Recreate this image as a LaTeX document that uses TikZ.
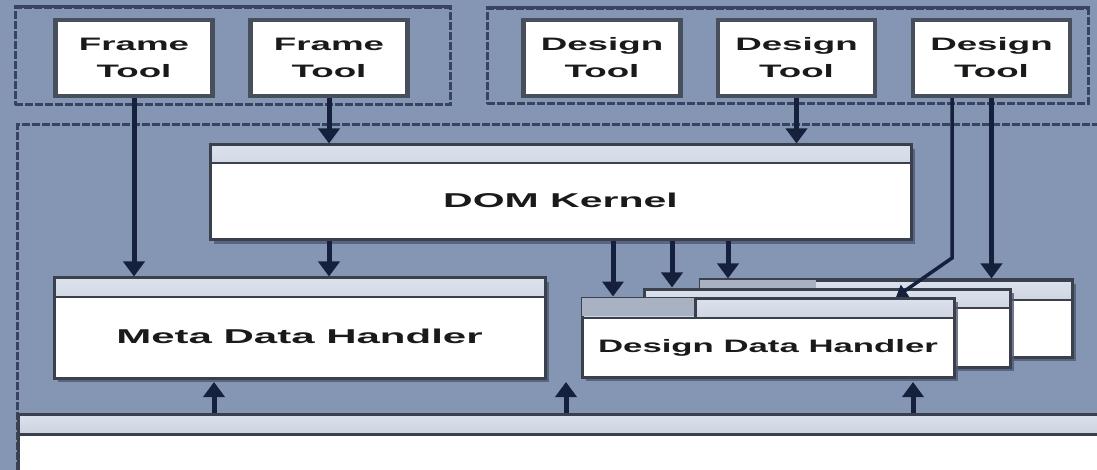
\documentclass[tikz,border=0pt]{standalone}
\usepackage{fontspec}
\setmainfont{Liberation Sans}
\usetikzlibrary{arrows.meta,shadows,calc}
\definecolor{bg}{HTML}{8595B4}
\definecolor{navy}{HTML}{15213C}
\definecolor{frm}{HTML}{384360}
\definecolor{bord}{HTML}{3A404C}
\definecolor{tbord}{HTML}{474E5C}
\definecolor{hdrtop}{HTML}{DCE2EC}
\definecolor{hdrbot}{HTML}{A6B2C7}
\definecolor{hdrdark}{HTML}{A9B2C2}
\definecolor{ink}{HTML}{1A1A1A}
\definecolor{shad}{HTML}{4E5972}
\begin{document}
\begin{tikzpicture}[x=1pt,y=-1pt,
  frame/.style={draw=frm, line width=3pt, dash pattern=on 8pt off 2pt},
  group/.style={frame, inner sep=0pt},
  toolbox/.style={draw=tbord, line width=4.5pt, fill=white, minimum width=157pt,
    minimum height=76pt, inner sep=0pt, align=center, text=ink,
    font=\fontsize{18}{27}\selectfont\bfseries},
  hbox/.style={draw=bord, line width=3pt, fill=white, inner sep=0pt, text=ink,
    path picture={
      \fill[top color=hdrtop, bottom color=hdrbot]
        (path picture bounding box.north west) rectangle
        ([yshift=-#1]path picture bounding box.north east);
      \draw[bord, line width=2.5pt]
        ([yshift=-#1]path picture bounding box.north west) --
        ([yshift=-#1]path picture bounding box.north east);}},
  shd/.style={drop shadow={shadow xshift=4pt, shadow yshift=-4pt, fill=shad, opacity=.8}},
  arr/.style={navy, line width=5pt, -{Triangle[width=21pt,length=15pt]}},
  thinarr/.style={navy, line width=3.5pt, -{Triangle[width=14pt,length=11pt]}}
]
\fill[bg] (0,0) rectangle (1097,470);
\useasboundingbox (0,0) rectangle (1097,470);

% group frames
\node[group, minimum width=435pt, minimum height=97pt] (lg) at (232.5,56.5) {};
\node[group, minimum width=601pt, minimum height=95pt] (rg) at (787.5,56.5) {};
\draw[frm, line width=3pt] (lg.north west) -- (lg.north east);
\draw[frm, line width=3pt] (rg.north west) -- (rg.north east);
% main frame
\draw[frame] (1100,125) -| (17,475);

% tool boxes
\node[toolbox] (ft1) at (134,58) {\scalebox{2.04}[1]{Frame}\\\scalebox{2.04}[1]{Tool}};
\node[toolbox] (ft2) at (329,58) {\scalebox{2.04}[1]{Frame}\\\scalebox{2.04}[1]{Tool}};
\node[toolbox] (dt1) at (602,58) {\scalebox{2.04}[1]{Design}\\\scalebox{2.04}[1]{Tool}};
\node[toolbox] (dt2) at (796.5,58) {\scalebox{2.04}[1]{Design}\\\scalebox{2.04}[1]{Tool}};
\node[toolbox] (dt3) at (991.5,58) {\scalebox{2.04}[1]{Design}\\\scalebox{2.04}[1]{Tool}};

% DOM kernel
\node[hbox=18pt, shd, minimum width=701pt, minimum height=95pt,
  font=\fontsize{20}{24}\selectfont\bfseries] (dom) at (560.5,192.5)
  {\raisebox{-15.5pt}[0pt][0pt]{\scalebox{2.05}[1]{DOM Kernel}}};

% Meta data handler
\node[hbox=19pt, shd, minimum width=491pt, minimum height=100pt,
  font=\fontsize{20}{24}\selectfont\bfseries] (mdh) at (299.5,328)
  {\raisebox{-15pt}[0pt][0pt]{\scalebox{2.1}[1]{Meta Data Handler}}};

% design data handler stack
\node[hbox=20pt, shd, minimum width=372pt, minimum height=77pt] (ddhb) at (886,318.5) {};
\fill[hdrdark] ([shift={(1.5pt,-1.5pt)}]ddhb.north west) rectangle ($(ddhb.north west)+(117,19)$);
\node[hbox=19pt, shd, minimum width=366pt, minimum height=78pt] (ddhm) at (827,328) {};
\node[hbox=20pt, shd, minimum width=372pt, minimum height=79pt,
  font=\fontsize{18}{22}\selectfont\bfseries] (ddh) at (768,337.5)
  {\raisebox{-15pt}[0pt][0pt]{\scalebox{1.93}[1]{Design Data Handler}}};
\fill[hdrdark] ([shift={(1.5pt,-1.5pt)}]ddh.north west) rectangle ($(ddh.north west)+(115,19)$);
\draw[bord, line width=2.5pt] ($(ddh.north west)+(115,0)$) -- ($(ddh.north west)+(115,20)$);

% base layer
\node[hbox=20pt, anchor=north west, minimum width=1083pt, minimum height=62pt] (base) at (17,413) {};

% coordinates
\coordinate (k1) at (613,0);
\coordinate (k2) at (672,0);
\coordinate (k3) at (728,0);
\coordinate (k4) at (952,0);
\coordinate (bend) at (952,258);
\coordinate (tip) at (896,297);
\coordinate (u1) at (214,382);
\coordinate (u2) at (566,382);
\coordinate (u3) at (913,382);

% arrows
\draw[arr] (ft1.south) -- (ft1.south |- mdh.north);
\draw[arr] (ft2.south) -- (ft2.south |- dom.north);
\draw[arr] (dom.south -| ft2.south) -- (mdh.north -| ft2.south);
\draw[arr] (dt2.south) -- (dt2.south |- dom.north);
\draw[arr] (dom.south -| k1) -- (ddh.north -| k1);
\draw[arr] (dom.south -| k2) -- (ddhm.north -| k2);
\draw[arr] (dom.south -| k3) -- (ddhb.north -| k3);
\draw[arr] (dt3.south) -- (dt3.south |- ddhb.north);
\draw[thinarr] (dt3.south -| k4) -- (bend) -- (tip);
\draw[arr] (base.north -| u1) -- (u1);
\draw[arr] (base.north -| u2) -- (u2);
\draw[arr] (base.north -| u3) -- (u3);
\end{tikzpicture}
\end{document}
